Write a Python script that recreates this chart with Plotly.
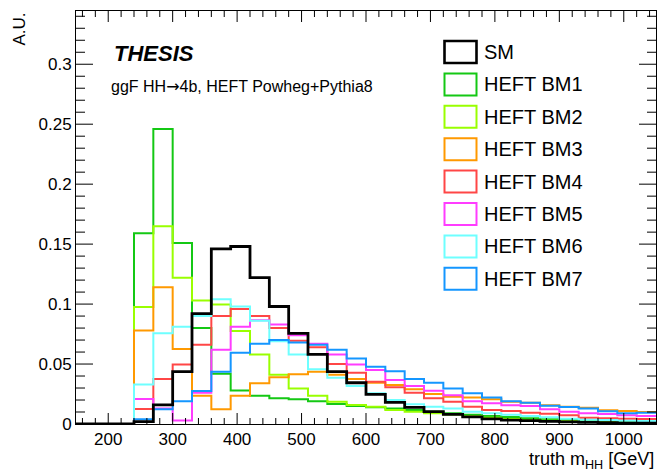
import plotly.graph_objects as go

# ---------------- data ----------------
bin_edges = [150, 180, 210, 240, 270, 300, 330, 360, 390, 420, 450, 480, 510, 540, 570,
             600, 630, 660, 690, 720, 750, 780, 810, 840, 870, 900, 930, 960, 990, 1020, 1050]

sm = [0, 0, 0, 0.002, 0.016, 0.0436, 0.092, 0.146, 0.148, 0.122, 0.098, 0.0756, 0.058, 0.0436,
      0.0344, 0.0247, 0.018, 0.0139, 0.0103, 0.008, 0.006, 0.0042, 0.0033, 0.0028, 0.0022,
      0.0017, 0.0014, 0.0011, 0.0008, 0.0008]
bm1 = [0, 0, 0, 0.159, 0.246, 0.151, 0.080, 0.042, 0.028, 0.0236, 0.0214, 0.0206, 0.019, 0.0167,
       0.015, 0.0139, 0.013, 0.0117, 0.0103, 0.0089, 0.0078, 0.0067, 0.0058, 0.0048, 0.004,
       0.0033, 0.0028, 0.0025, 0.0021, 0.002]
bm2 = [0, 0, 0, 0.0975, 0.165, 0.122, 0.103, 0.0997, 0.0775, 0.058, 0.041, 0.0297, 0.0236, 0.0186,
       0.0158, 0.0144, 0.0117, 0.0103, 0.0089, 0.008, 0.0065, 0.0052, 0.0042, 0.0033, 0.0027,
       0.0022, 0.0019, 0.0016, 0.0013, 0.0012]
bm3 = [0, 0, 0, 0.078, 0.114, 0.0625, 0.0236, 0.0122, 0.0236, 0.034, 0.039, 0.0415, 0.0435, 0.041,
       0.0375, 0.0344, 0.0325, 0.029, 0.025, 0.0228, 0.022, 0.0206, 0.0186, 0.0178, 0.0156,
       0.0144, 0.0136, 0.0114, 0.0108, 0.010]
bm4 = [0, 0, 0, 0.0125, 0.0375, 0.0497, 0.066, 0.090, 0.096, 0.090, 0.080, 0.0694, 0.064, 0.050,
       0.0428, 0.0353, 0.0306, 0.026, 0.0214, 0.0186, 0.0144, 0.0117, 0.0108, 0.0094, 0.0086,
       0.0072, 0.0053, 0.0047, 0.0044, 0.0042]
bm5 = [0, 0, 0, 0.0208, 0.013, 0.003, 0.026, 0.062, 0.081, 0.0865, 0.083, 0.074, 0.067, 0.058,
       0.0497, 0.045, 0.0367, 0.0317, 0.0278, 0.024, 0.019, 0.0172, 0.0156, 0.015, 0.0122,
       0.0103, 0.009, 0.0083, 0.0072, 0.0067]
bm6 = [0, 0, 0, 0.033, 0.0756, 0.081, 0.090, 0.104, 0.098, 0.086, 0.069, 0.058, 0.0456, 0.0386,
       0.0317, 0.0256, 0.020, 0.0164, 0.0144, 0.013, 0.0103, 0.0089, 0.0078, 0.0067, 0.0056,
       0.0044, 0.0036, 0.0033, 0.0028, 0.0025]
bm7 = [0, 0, 0, 0.004, 0.0122, 0.019, 0.0275, 0.0436, 0.0594, 0.067, 0.070, 0.068, 0.066, 0.062,
       0.0547, 0.0478, 0.044, 0.0375, 0.0344, 0.0297, 0.0256, 0.022, 0.019, 0.0178, 0.0153,
       0.0142, 0.013, 0.0106, 0.0089, 0.0094]

labels = ["SM", "HEFT BM1", "HEFT BM2", "HEFT BM3", "HEFT BM4", "HEFT BM5", "HEFT BM6", "HEFT BM7"]
series = [sm, bm1, bm2, bm3, bm4, bm5, bm6, bm7]
colors = ["#000000", "#14c814", "#99ff00", "#ff9900", "#ff4646", "#ff3cff", "#6effff", "#1496ff"]
widths = [2.8, 2, 2, 2, 2, 2, 2, 2]

# tick values
x_major = [200, 300, 400, 500, 600, 700, 800, 900, 1000]
x_minor = [v for v in range(160, 1050, 20) if v not in x_major]
y_major = [0.05, 0.1, 0.15, 0.2, 0.25, 0.3]
y_minor = [round(0.01 * k, 2) for k in range(1, 35) if k % 5 != 0]

FONT = "Liberation Sans, Arial, Helvetica, sans-serif"

fig = go.Figure()

# draw BMs first, SM on top
order = [1, 2, 3, 4, 5, 6, 7, 0]
for i in order:
    vals = series[i]
    fig.add_trace(go.Scatter(
        x=bin_edges, y=list(vals) + [vals[-1]],
        mode="lines", line=dict(shape="hv", color=colors[i], width=widths[i]),
        name=labels[i], showlegend=False, hoverinfo="skip"))

W, H = 658, 475
L, R, T, B = 76, 2, 11, 51
pw, ph = W - L - R, H - T - B


def px2x(px):
    return (px - L) / pw


def py2y(py):
    return (H - B - py) / ph


shapes = []
annotations = []

# ROOT-style inside ticks on all four sides
tick_line = dict(color="black", width=1)
for v in x_major + x_minor:
    ln = 11 if v in x_major else 6
    shapes.append(dict(type="line", xref="x", yref="paper", x0=v, x1=v, y0=0, y1=ln / ph,
                       line=tick_line, layer="above"))
    shapes.append(dict(type="line", xref="x", yref="paper", x0=v, x1=v, y0=1, y1=1 - ln / ph,
                       line=tick_line, layer="above"))
for v in y_major + y_minor:
    ln = 17 if v in y_major else 9
    shapes.append(dict(type="line", xref="paper", yref="y", x0=0, x1=ln / pw, y0=v, y1=v,
                       line=tick_line, layer="above"))
    shapes.append(dict(type="line", xref="paper", yref="y", x0=1, x1=1 - ln / pw, y0=v, y1=v,
                       line=tick_line, layer="above"))

# manual ROOT-style legend (empty boxes)
for k, lab in enumerate(labels):
    cy = 52 + k * 32.4
    shapes.append(dict(type="rect", xref="paper", yref="paper",
                       x0=px2x(444.5), x1=px2x(476.5), y0=py2y(cy + 11), y1=py2y(cy - 11),
                       line=dict(color=colors[k], width=2.6 if k == 0 else 2),
                       fillcolor="rgba(0,0,0,0)"))
    annotations.append(dict(xref="paper", yref="paper", x=px2x(482), y=py2y(cy),
                            text=lab, showarrow=False, xanchor="left", yanchor="middle",
                            font=dict(family=FONT, size=20, color="black")))

annotations += [
    dict(xref="paper", yref="paper", x=px2x(112), y=py2y(54), text="<b><i>THESIS</i></b>",
         showarrow=False, xanchor="left", yanchor="middle",
         font=dict(family=FONT, size=22, color="black")),
    dict(xref="paper", yref="paper", x=px2x(109), y=py2y(86),
         text="ggF HH<span style=\"font-family:DejaVu Sans\">\u2192</span>4b, HEFT Powheg+Pythia8",
         showarrow=False, xanchor="left", yanchor="middle",
         font=dict(family=FONT, size=16, color="black")),
    dict(xref="paper", yref="paper", x=px2x(19), y=1.0, text="A.U.", textangle=-90,
         showarrow=False, xanchor="center", yanchor="top",
         font=dict(family=FONT, size=17, color="black")),
    dict(xref="paper", yref="paper", x=1.0, y=py2y(460),
         text="truth m<sub>HH</sub> [GeV]",
         showarrow=False, xanchor="right", yanchor="middle",
         font=dict(family=FONT, size=18, color="black")),
]

fig.update_layout(
    width=W, height=H,
    margin=dict(l=L, r=R, t=T, b=B),
    paper_bgcolor="white", plot_bgcolor="white",
    font=dict(family=FONT, size=17, color="black"),
    shapes=shapes, annotations=annotations,
    showlegend=False,
)

fig.update_xaxes(
    range=[150, 1050], showgrid=False, zeroline=False,
    showline=True, linecolor="black", linewidth=1, mirror=True,
    ticks="", tickmode="array", tickvals=x_major,
    tickfont=dict(family=FONT, size=17, color="black"),
)
fig.update_yaxes(
    range=[0, 0.3444], showgrid=False, zeroline=False,
    showline=True, linecolor="black", linewidth=1, mirror=True,
    ticks="", tickmode="array", tickvals=[0] + y_major,
    ticktext=["0", "0.05", "0.1", "0.15", "0.2", "0.25", "0.3"],
    tickfont=dict(family=FONT, size=17, color="black"),
)

fig.write_html("out.html")
